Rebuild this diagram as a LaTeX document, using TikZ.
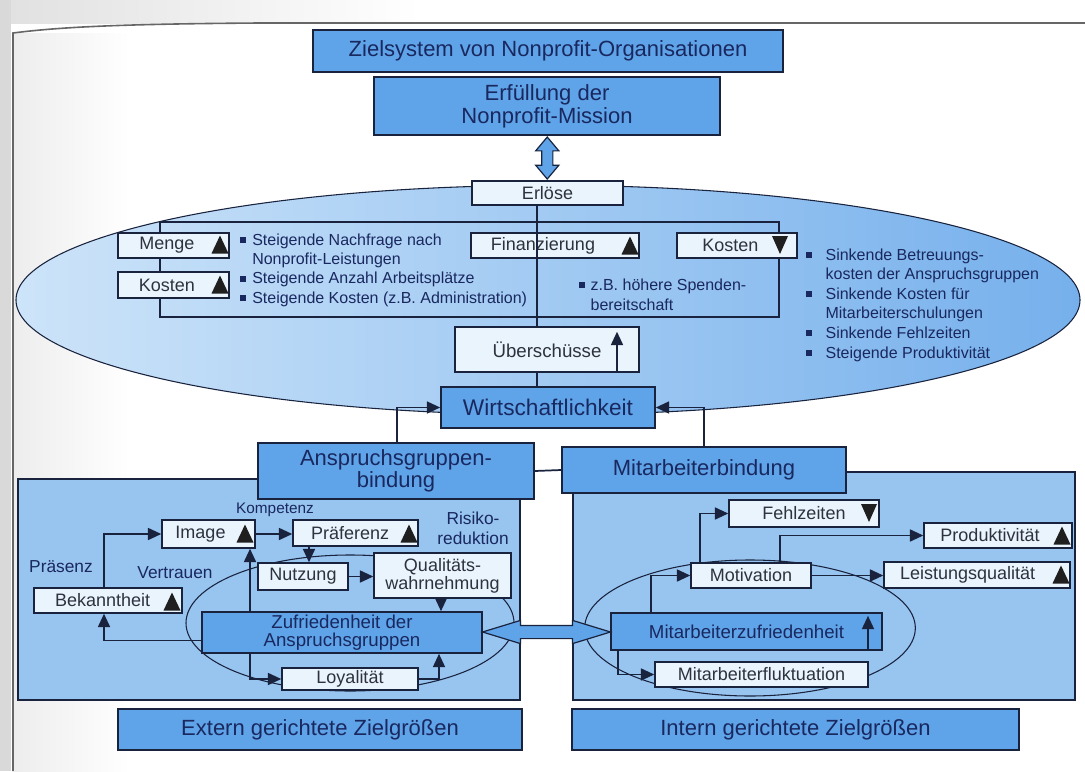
\documentclass[tikz,border=0pt]{standalone}
\usepackage{fontspec}
\setmainfont{Liberation Sans}
\setsansfont{Liberation Sans}
\usetikzlibrary{arrows.meta,shapes.arrows,calc}
\definecolor{linec}{RGB}{25,35,62}
\definecolor{boxblue}{RGB}{95,163,232}
\definecolor{panelblue}{RGB}{152,196,240}
\definecolor{lightbx}{RGB}{234,244,253}
\definecolor{txtdark}{RGB}{45,50,62}
\definecolor{txtblue}{RGB}{25,40,95}
\definecolor{elllight}{RGB}{205,228,249}
\definecolor{ellblue}{RGB}{118,176,236}
\newcommand\bsq{\raisebox{1.8pt}{\rule{4.5pt}{4.5pt}}}
\begin{document}
\begin{tikzpicture}[x=0.75pt,y=-0.75pt,
 conn/.style={draw=linec, line width=1.3pt},
 arr/.style={conn, -{Triangle[length=10pt,width=9pt]}},
 sz/.style 2 args={minimum width=#1*0.75pt, minimum height=#2*0.75pt},
 bbox/.style={draw=linec, line width=1.2pt, fill=boxblue, text=txtblue, inner sep=0pt, align=center},
 lbox/.style={draw=linec, line width=1.1pt, fill=lightbx, text=txtdark, inner sep=0pt, align=center},
 fbig/.style={font=\fontsize{16.5}{17}\selectfont},
 fbox/.style={font=\fontsize{13.5}{15}\selectfont},
 lbl/.style={text=txtblue, inner sep=0pt, align=center, font=\fontsize{13}{15}\selectfont},
 bul/.style={text=txtblue, inner sep=0pt, anchor=base west, font=\fontsize{12}{14.6}\selectfont},
 dbl/.style={double arrow, draw=linec, line width=0.9pt, fill=boxblue, inner xsep=0pt, double arrow head indent=0pt},
 triup/.pic={\fill[black!88] (-8.5,8.5) -- (8.5,8.5) -- (0,-9.5) -- cycle;},
 tridown/.pic={\fill[black!88] (-8,-9) -- (8,-9) -- (0,9) -- cycle;}
]
\useasboundingbox (0,0) rectangle (1085,771);
% scanned page background
\fill[white] (0,0) rectangle (1085,771);
\shade[left color=black!12, right color=white] (0,0) rectangle (420,23);
\fill[black!15] (0,0) rectangle (11,771);
\shade[left color=black!7, right color=white] (14,33) rectangle (130,771);
\draw[black!60, line width=1.2pt] (13,771) -- (13,33) .. controls (60,27) and (120,24) .. (260,23) -- (1085,23);

% big ellipse
\draw[linec, line width=0.8pt, left color=elllight, right color=ellblue] (548,300) ellipse [x radius=399pt, y radius=86pt];

% inner frame of the Erlöse block
\draw[conn] (160,222) rectangle (779,317);

% panels
\draw[linec, line width=1pt, fill=panelblue] (18,479) rectangle (520,700);
\draw[linec, line width=1pt, fill=panelblue] (573,472) rectangle (1075,700);
\draw[linec, line width=0.8pt] (350,623) ellipse [x radius=123pt, y radius=51pt];
\draw[linec, line width=0.8pt] (750,628) ellipse [x radius=124pt, y radius=51pt];

% helper x positions
\coordinate (vx) at (537,0);
\coordinate (ax) at (397,0);
\coordinate (bx) at (704,0);
\coordinate (ux) at (617,0);
\coordinate (px) at (104,0);
\coordinate (zx) at (250,0);
\coordinate (nx) at (309,0);
\coordinate (qx) at (441,0);
\coordinate (lx) at (439,0);
\coordinate (m1) at (700,0);
\coordinate (m2) at (780,0);
\coordinate (mz) at (651,0);
\coordinate (mf) at (618,0);
\coordinate (mu) at (868,0);

% top boxes
\node[bbox, fbig, sz={470}{42}] (title) at (548,51) {Zielsystem von Nonprofit-Organisationen};
\node[bbox, fbig, sz={346}{58}] (erf) at (547,106) {Erfüllung der\\Nonprofit-Mission};
\node[lbox, fbox, sz={151}{24}] (erl) at (547.5,193) {Erlöse};

% Erlöse block
\node[lbox, fbox, sz={111}{25}] (menge) at (173.5,245.5) {Menge\hspace*{10pt}};
\node[lbox, fbox, sz={111}{26}] (kostl) at (173.5,285) {Kosten\hspace*{10pt}};
\node[lbox, fbox, sz={168}{25}] (fin) at (555,245.5) {Finanzierung\hspace*{18pt}};
\node[lbox, fbox, sz={120}{25}] (kostr) at (737,245.5) {Kosten\hspace*{10pt}};
\node[lbox, font=\fontsize{14}{16}\selectfont, sz={184}{45}] (ueb) at (547,349.5) {Überschüsse};
\node[bbox, font=\fontsize{17}{18}\selectfont, sz={214}{41}] (wirt) at (548,407.5) {Wirtschaftlichkeit};

\pic at (220,245) {triup};
\pic at (220,285) {triup};
\pic at (630,246) {triup};
\pic at (780,245) {tridown};

\node[bul] (bl) at (240,245) {\begin{tabular}[t]{@{}l@{\hspace{4.5pt}}l@{}}\bsq&Steigende Nachfrage nach\\&Nonprofit-Leistungen\\\bsq&Steigende Anzahl Arbeitsplätze\\\bsq&Steigende Kosten (z.B. Administration)\end{tabular}};
\node[bul, font=\fontsize{12}{15.5}\selectfont] (bm) at (579,290) {\begin{tabular}[t]{@{}l@{\hspace{4pt}}l@{}}\bsq&z.B. höhere Spenden-\\&bereitschaft\end{tabular}};
\node[bul, font=\fontsize{12}{14.7}\selectfont] (br) at (806,260) {\begin{tabular}[t]{@{}l@{\hspace{10pt}}l@{}}\bsq&Sinkende Betreuungs-\\&kosten der Anspruchsgruppen\\\bsq&Sinkende Kosten für\\&Mitarbeiterschulungen\\\bsq&Sinkende Fehlzeiten\\\bsq&Steigende Produktivität\end{tabular}};

% second level boxes
\node[bbox, font=\fontsize{16.5}{16.5}\selectfont, sz={276}{56}] (ansp) at (396,471) {Anspruchsgruppen-\\bindung};
\node[bbox, font=\fontsize{16.5}{17}\selectfont, sz={284}{46}] (mit) at (704,470) {Mitarbeiterbindung};

% left panel boxes
\node[lbox, fbox, sz={93}{28}] (img) at (208.5,534) {Image\hspace*{12pt}};
\node[lbox, fbox, sz={125}{26}] (pref) at (355.5,533) {Präferenz\hspace*{8pt}};
\node[lbox, fbox, sz={148}{25}] (bek) at (108,600.5) {Bekanntheit\hspace*{8pt}};
\node[lbox, fbox, sz={90}{27}] (nutz) at (303,576.5) {Nutzung};
\node[lbox, font=\fontsize{13.5}{13.5}\selectfont, sz={137}{45}] (qual) at (442.5,575.5) {Qualitäts-\\wahrnehmung};
\node[bbox, font=\fontsize{14}{13}\selectfont, sz={280}{41}] (zuf) at (342,632.5) {Zufriedenheit der\\Anspruchsgruppen};
\node[lbox, fbox, sz={136}{22}] (loy) at (350,679) {Loyalität};

\node[lbl, font=\fontsize{11.5}{13}\selectfont] (komp) at (275,510) {Kompetenz};
\node[lbl] (risk) at (473,528) {Risiko-\\reduktion};
\node[lbl] (praes) at (61,567) {Präsenz};
\node[lbl] (vert) at (175,573) {Vertrauen};

\pic at (245,534) {triup};
\pic at (409,534) {triup};
\pic at (172,602) {triup};

% right panel boxes
\node[lbox, fbox, sz={150}{27}] (fehl) at (804,513.5) {Fehlzeiten};
\node[lbox, fbox, sz={148}{25}] (prod) at (998,535.5) {Produktivität\hspace*{12pt}};
\node[lbox, fbox, sz={120}{25}] (mot) at (751,575.5) {Motivation};
\node[lbox, fbox, sz={186}{26}] (leist) at (977,575) {Leistungsqualität\hspace*{14pt}};
\node[bbox, font=\fontsize{14}{16}\selectfont, sz={271}{37}] (mzuf) at (746.5,631.5) {Mitarbeiterzufriedenheit};
\node[lbox, fbox, sz={213}{25}] (mfluk) at (761.5,674.5) {Mitarbeiterfluktuation};

\pic at (869,513) {tridown};
\pic at (1062,536) {triup};
\pic at (1061,575) {triup};

% bottom boxes
\node[bbox, fbig, sz={404}{41}] (ext) at (320,729.5) {Extern gerichtete Zielgrößen};
\node[bbox, fbig, sz={447}{41}] (int) at (795.5,729.5) {Intern gerichtete Zielgrößen};

% connectors top
\draw[conn] (erl.south -| vx) -- (ueb.north -| vx);
\draw[conn] (ueb.south -| vx) -- (wirt.north -| vx);
\draw[arr] (ueb.south -| ux) -- ++(0,-41);
\draw[arr] (ansp.north -| ax) |- (wirt.west);
\draw[arr] (mit.north -| bx) |- (wirt.east);
\draw[conn] (ansp.east) -- (mit.west);

% connectors left panel
\draw[arr] (bek.north -| px) |- (img.west);
\draw[arr] (img.east) -- (pref.west |- img.east);
\draw[arr] (pref.south -| nx) -- (nutz.north -| nx);
\draw[arr] (nutz.east) -- (qual.west |- nutz.east);
\draw[arr] (qual.south -| qx) -- (zuf.north -| qx);
\draw[arr] (zuf.north -| zx) -- (img.south -| zx);
\draw[arr] ([yshift=-6pt]zuf.west) -| (bek.south -| px);
\draw[arr] (zuf.south -| zx) |- (loy.west);
\draw[arr] (loy.east) -| (zuf.south -| lx);

% connectors right panel
\draw[arr] (mot.north -| m1) |- (fehl.west);
\draw[arr] (mot.north -| m2) |- (prod.west);
\draw[arr] (mot.east) -- (leist.west |- mot.east);
\draw[arr] (mzuf.north -| mz) |- (mot.west);
\draw[arr] (mzuf.south -| mf) |- (mfluk.west);
\draw[arr] (mzuf.south -| mu) -- ++(0,-35);

% double arrows
\node[dbl, rotate=90, minimum height=31.5pt, inner ysep=3.75pt, double arrow head extend=4.5pt, double arrow tip angle=80] (dv) at ($(erf.south)!0.5!(erl.north)$) {};
\node[dbl, minimum height=96pt, inner ysep=4.5pt, double arrow head extend=3.75pt, double arrow tip angle=34] (dh) at ($(zuf.east)!0.5!(mzuf.west)$) {};
\end{tikzpicture}
\end{document}
